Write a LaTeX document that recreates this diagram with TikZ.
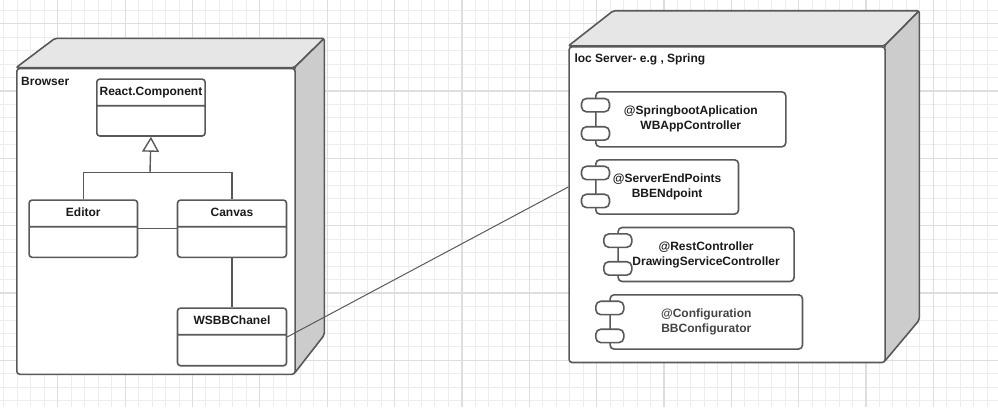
\documentclass[tikz,border=0pt]{standalone}
\usepackage{fontspec}
\setmainfont{Liberation Sans}
\usetikzlibrary{calc, arrows.meta, shapes.multipart}

\definecolor{linegray}{HTML}{595959}
\definecolor{topgray}{HTML}{E6E6E6}
\definecolor{sidegray}{HTML}{CCCCCC}
\definecolor{minorgray}{HTML}{EDEDED}
\definecolor{majorgray}{HTML}{DEDEDE}
\definecolor{textblack}{HTML}{1A1A1A}
\definecolor{textgray}{HTML}{444444}

\newcommand{\umlfont}{\bfseries\fontsize{12}{15}\selectfont}
\newcommand{\classhead}[1]{\rule[-9.3pt]{0pt}{25pt}#1}
\newcommand{\classbody}[1]{\rule{0pt}{#1}}

\tikzset{
	nodeface/.style={draw=linegray, line width=1.6pt, fill=white, rounded corners=3pt, anchor=north west, inner sep=0pt},
	topface/.style={draw=linegray, line width=1.6pt, fill=topgray, rounded corners=2pt, line join=round},
	sideface/.style={draw=linegray, line width=1.6pt, fill=sidegray, rounded corners=2pt, line join=round},
	nodetitle/.style={anchor=base west, inner sep=0pt, font=\umlfont, text=textblack},
	classbox/.style={rectangle split, rectangle split parts=2, draw=linegray, line width=1.6pt, fill=white, rounded corners=3pt, anchor=north west, inner xsep=0pt, inner ysep=0pt, minimum width=#1, font=\umlfont, text=textblack},
	component/.style={draw=linegray, line width=1.6pt, fill=white, rounded corners=4pt, anchor=north west, inner sep=0pt, align=center, font=\umlfont, text=textblack},
	comptab/.style={draw=linegray, line width=1.6pt, fill=white, rounded corners=5pt, minimum width=28pt, minimum height=13.4pt, inner sep=0pt},
	assoc/.style={draw=linegray, line width=1.4pt},
	wslink/.style={draw=linegray, line width=1pt},
	minorgrid/.style={draw=minorgray, line width=1pt},
	majorgrid/.style={draw=majorgray, line width=1.2pt},
}

\begin{document}
\begin{tikzpicture}[x=1pt, y=-1pt]
		\useasboundingbox (0,0) rectangle (998,407);
		
		%background grid
		\foreach \i in {0,...,73} {
			\pgfmathsetmacro{\gx}{3.92+13.47*\i}
			\draw[minorgrid] (\gx,0) -- (\gx,407);
		}
		\foreach \i in {0,...,29} {
			\pgfmathsetmacro{\gy}{10.2+13.47*\i}
			\draw[minorgrid] (0,\gy) -- (998,\gy);
		}
		\foreach \i in {0,...,13} {
			\pgfmathsetmacro{\gx}{57.8+67.35*\i}
			\draw[majorgrid] (\gx,0) -- (\gx,407);
		}
		\foreach \i in {0,...,5} {
			\pgfmathsetmacro{\gy}{23.67+67.35*\i}
			\draw[majorgrid] (0,\gy) -- (998,\gy);
		}
		
		%browser node
		\draw[topface] (16,67.7) -- (55,38.3) -- (324.3,38.3) -- (294.3,67.7) -- cycle;
		\draw[sideface] (294.3,67.7) -- (324.3,38.3) -- (324.3,335) -- (294.3,373.5) -- cycle;
		\node[nodeface, minimum width=278.3pt, minimum height=305.8pt] (browser) at (16,67.7) {};
		\node[nodetitle] (browser title) at (21,85.3) {Browser};
		
		%server node
		\draw[topface] (568.3,46) -- (613.3,10.7) -- (919.3,10.7) -- (884.3,46) -- cycle;
		\draw[sideface] (884.3,46) -- (919.3,10.7) -- (919.3,320) -- (884.3,361.7) -- cycle;
		\node[nodeface, minimum width=316pt, minimum height=315.7pt] (server) at (568.3,46) {};
		\node[nodetitle] (server title) at (574.3,62) {loc Server- e.g , Spring};
		
		%classes
		\node[classbox=108.3pt] (react) at (96,78.3) {\classhead{React.Component}\nodepart{two}\classbody{28.7pt}};
		\node[classbox=108.4pt] (editor) at (28.3,199.3) {\classhead{Editor}\nodepart{two}\classbody{29pt}};
		\node[classbox=109pt] (canvas) at (176.7,199.3) {\classhead{Canvas}\nodepart{two}\classbody{29pt}};
		\node[classbox=109pt] (chanel) at (176.7,307.3) {\classhead{WSBBChanel}\nodepart{two}\classbody{29.4pt}};
		
		\coordinate (fork) at (150,172.7);
		\draw[assoc] (editor.north) |- (fork) -| (canvas.north);
		\draw[assoc, -{Triangle[length=15pt, width=17pt, fill=white]}] (fork) -- (react.south);
		\draw[assoc] (editor.east) -- (canvas.west);
		\draw[assoc] (canvas.south) -- (chanel.north);
		
		%components
		\node[component, minimum width=190pt, minimum height=55pt] (boot) at (595,91) {@SpringbootAplication\\WBAppController};
		\node[component, minimum width=142.7pt, minimum height=54.3pt] (endpoint) at (595,159) {@ServerEndPoints\\BBENdpoint};
		\node[component, minimum width=176pt, minimum height=54pt] (rest) at (617.3,226.7) {@RestController\\DrawingServiceController};
		\node[component, minimum width=192.4pt, minimum height=54.3pt, text=textgray] (config) at (609.3,294) {@Configuration\\BBConfigurator};
		
		\foreach \c in {boot, endpoint, rest, config} {
			\node[comptab] (\c\space tab a) at ($(\c.north west)!.25!(\c.south west)+(0.5,0)$) {};
			\node[comptab] (\c\space tab b) at ($(\c.north west)!.75!(\c.south west)+(0.5,0)$) {};
		}
		
		%websocket link
		\draw[wslink] (chanel.east) -- (server.west |- endpoint.west);
	\end{tikzpicture}
\end{document}
